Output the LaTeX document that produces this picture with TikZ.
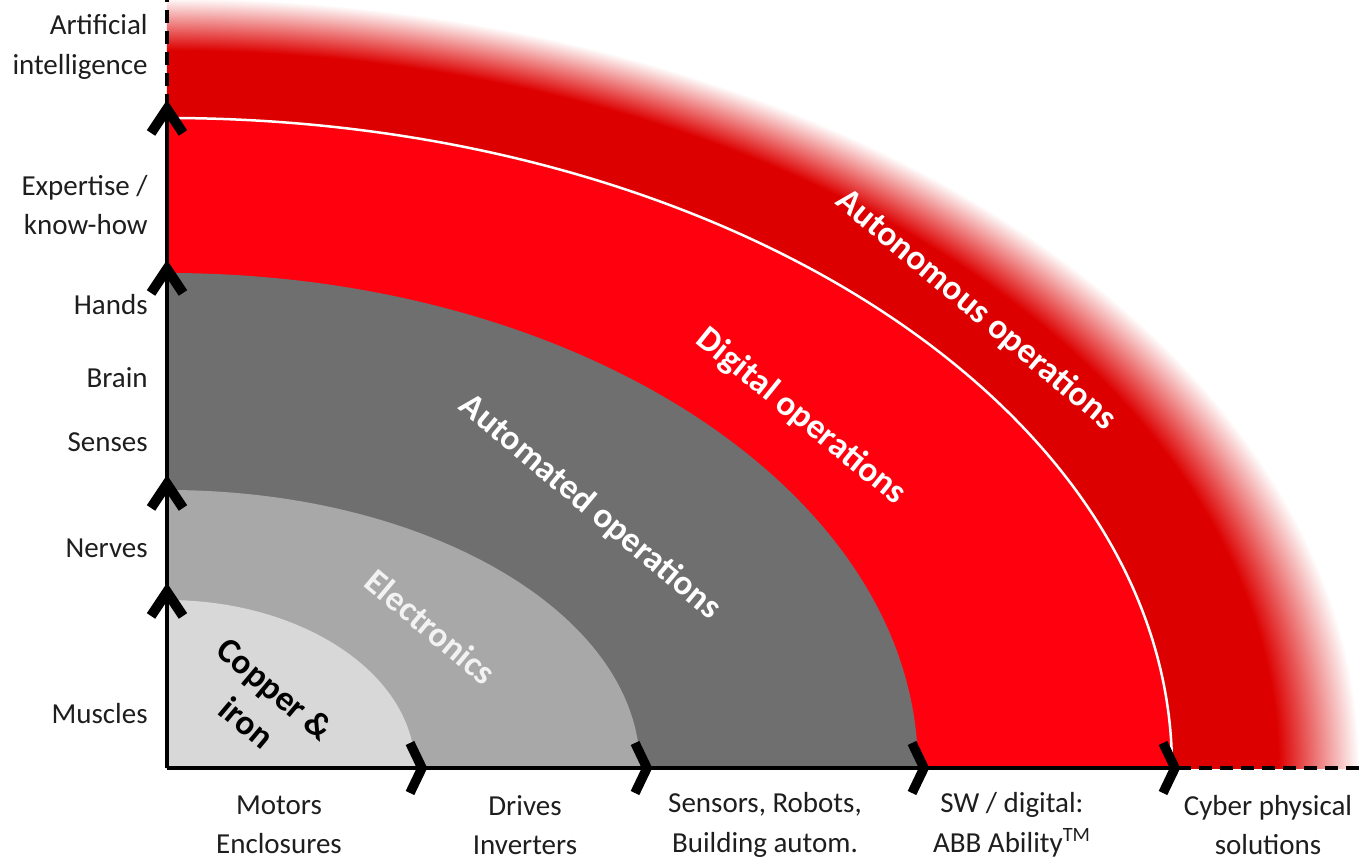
\documentclass[tikz,border=0pt]{standalone}
\usepackage{fontspec}
\setmainfont{Carlito}

\definecolor{copperGray}{HTML}{D8D8D8}
\definecolor{elecGray}{HTML}{A8A8A8}
\definecolor{autoGray}{HTML}{6F6F6F}
\definecolor{digiRed}{HTML}{FF000F}
\definecolor{autonRed}{HTML}{DD0000}
\definecolor{labelInk}{HTML}{1E1E1E}
\definecolor{elecInk}{HTML}{F2F2F2}

% the path's bounding box takes the middle 50bp of the shading
\pgfdeclareradialshading{autonFade}{\pgfpoint{0bp}{0bp}}{color(0bp)=(autonRed); color(23.3bp)=(autonRed); color(25bp)=(white); color(50bp)=(white)}

\tikzset{
  axisline/.style={line width=0.07cm, black},
  dashpart/.style={dash pattern=on 0.26cm off 0.16cm},
  ychev/.style={line width=0.2cm, black, line join=miter},
  xchev/.style={line width=0.19cm, black, line join=miter},
  ylabel/.style={anchor=east, align=right, inner sep=0pt, text=labelInk,
    font=\fontsize{16.5}{22.5}\selectfont},
  xlabel/.style={anchor=center, align=center, inner sep=0pt, text=labelInk,
    font=\fontsize{16.5}{22.5}\selectfont},
  bandtext/.style={text=white, align=center, inner sep=0pt,
    font=\bfseries\fontsize{20}{25}\selectfont}
}

\begin{document}
\begin{tikzpicture}[x=0.02cm, y=0.02cm]
  \useasboundingbox (-167,-98) rectangle (1193,768);

  % Autonomous operations, fading out
  \begin{scope}
    \clip (0,0) rectangle (1193,768);
    \shade[shading=autonFade] (0,0) ellipse (1192 and 770);
  \end{scope}

  % Digital operations
  \fill[digiRed] (0,0) -- (1005,0) arc (0:90:1005 and 650) -- cycle;
  \draw[white, line width=0.05cm] (1005,0) arc (0:90:1005 and 650);

  % Automated operations
  \fill[autoGray] (0,0) -- (751,0) arc (0:90:751 and 495) -- cycle;

  % Electronics
  \fill[elecGray] (0,0) -- (473,0) arc (0:90:473 and 278) -- cycle;

  % Copper & iron
  \fill[copperGray] (0,0) -- (248,0) arc (0:90:248 and 168) -- cycle;

  % axes
  \draw[axisline] (0,0) -- (0,661);
  \draw[axisline, dashpart] (0,661) -- (0,768);
  \draw[axisline] (0,0) -- (1011,0);
  \draw[axisline, dashpart] (1011,0) -- (1193,0);

  % chevrons on the axes
  \foreach \t in {176,284,499,659}
    \draw[ychev] (-16,\t-24) -- (0,\t) -- (16,\t-24);
  \foreach \v in {255,480,757,1008}
    \draw[xchev] (\v-12,25) -- (\v,0) -- (\v-12,-25);

  % band names
  \node[bandtext, text=black, rotate=-40] (copper) at (94,62) {Copper \&\\iron};
  \node[bandtext, text=elecInk, rotate=-40] (electronics) at (264,141) {Electronics};
  \node[bandtext, rotate=-40] (automated) at (423,261) {Automated operations};
  \node[bandtext, rotate=-39] (digital) at (634,351) {Digital operations};
  \node[bandtext, rotate=-40] (autonomous) at (809,458) {Autonomous operations};

  % left side labels
  \node[ylabel] (ai) at (-19,721) {Artificial\\intelligence};
  \node[ylabel] (expertise) at (-19,563) {Expertise /\\know-how};
  \node[ylabel] (hands) at (-19,463) {Hands};
  \node[ylabel] (brain) at (-19,390) {Brain};
  \node[ylabel] (senses) at (-19,326) {Senses};
  \node[ylabel] (nerves) at (-19,220) {Nerves};
  \node[ylabel] (muscles) at (-19,54) {Muscles};

  % bottom labels
  \node[xlabel] (motors) at (112,-57) {Motors\\Enclosures};
  \node[xlabel] (drives) at (358,-57) {Drives\\Inverters};
  \node[xlabel] (sensors) at (598,-57) {Sensors, Robots,\\Building autom.};
  \node[xlabel] (software) at (845,-57) {SW / digital:\\ABB Ability\textsuperscript{TM}};
  \node[xlabel] (cyber) at (1101,-57) {Cyber physical\\solutions};

\end{tikzpicture}
\end{document}
